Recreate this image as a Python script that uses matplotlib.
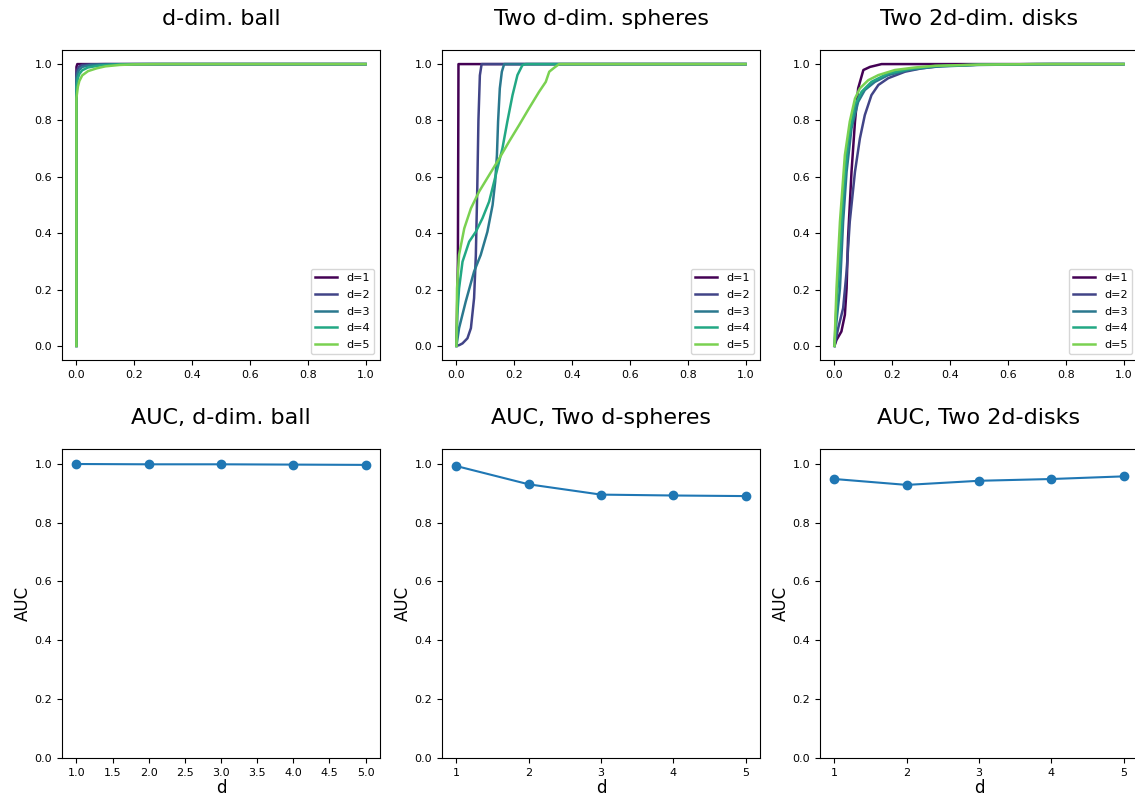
import matplotlib
matplotlib.use("Agg")
import matplotlib.pyplot as plt
import numpy as np

dims = [1, 2, 3, 4, 5]
labels = [f"d={d}" for d in dims]

# ROC curves, d-dim. ball
ball_x = [
    [0, 0, 0.003, 1],
    [0, 0, 0.005, 0.01, 0.02, 0.05, 0.1, 1],
    [0, 0, 0.005, 0.01, 0.02, 0.05, 0.1, 0.2, 1],
    [0, 0, 0.005, 0.01, 0.02, 0.04, 0.08, 0.15, 0.25, 1],
    [0, 0, 0.005, 0.01, 0.02, 0.04, 0.07, 0.1, 0.15, 0.2, 0.3, 1],
]
ball_y = [
    [0, 0.99, 1.0, 1.0],
    [0, 0.97, 0.985, 0.992, 0.997, 0.999, 1.0, 1.0],
    [0, 0.95, 0.97, 0.98, 0.99, 0.997, 0.999, 1.0, 1.0],
    [0, 0.92, 0.95, 0.965, 0.978, 0.988, 0.995, 0.999, 1.0, 1.0],
    [0, 0.88, 0.92, 0.94, 0.96, 0.975, 0.985, 0.992, 0.997, 0.999, 1.0, 1.0],
]

# ROC curves, two d-dim. spheres
sph_x = [
    [0, 0.005, 0.007, 1],
    [0, 0.01, 0.021, 0.038, 0.05, 0.061, 0.067, 0.072, 0.076, 0.081, 0.087, 1],
    [0, 0.009, 0.032, 0.061, 0.084, 0.107, 0.125, 0.134, 0.14, 0.144, 0.15,
     0.157, 0.165, 1],
    [0, 0.003, 0.009, 0.021, 0.044, 0.067, 0.09, 0.113, 0.136, 0.159, 0.176,
     0.194, 0.211, 0.228, 0.24, 1],
    [0, 0.002, 0.009, 0.027, 0.05, 0.078, 0.113, 0.148, 0.182, 0.217, 0.251,
     0.286, 0.309, 0.321, 0.338, 0.355, 1],
]
sph_y = [
    [0, 0.3, 1.0, 1.0],
    [0, 0.003, 0.009, 0.027, 0.063, 0.17, 0.32, 0.56, 0.80, 0.96, 1.0, 1.0],
    [0, 0.063, 0.157, 0.264, 0.323, 0.405, 0.5, 0.583, 0.677, 0.796, 0.914,
     0.973, 1.0, 1.0],
    [0, 0.11, 0.204, 0.299, 0.37, 0.405, 0.453, 0.512, 0.606, 0.701, 0.796,
     0.89, 0.961, 0.996, 1.0, 1.0],
    [0, 0.204, 0.323, 0.417, 0.488, 0.547, 0.606, 0.665, 0.725, 0.784, 0.843,
     0.902, 0.937, 0.973, 0.987, 1.0, 1.0],
]

# ROC curves, two 2d-dim. disks
disk_x = [
    [0, 0.007, 0.024, 0.036, 0.042, 0.047, 0.059, 0.071, 0.082, 0.1, 0.123,
     0.163, 1],
    [0, 0.013, 0.03, 0.042, 0.053, 0.071, 0.088, 0.105, 0.128, 0.152, 0.186,
     0.244, 0.302, 0.372, 0.5, 0.7, 1],
    [0, 0.007, 0.019, 0.03, 0.042, 0.059, 0.082, 0.105, 0.14, 0.186, 0.256,
     0.348, 0.5, 0.75, 1],
    [0, 0.007, 0.019, 0.03, 0.047, 0.071, 0.094, 0.128, 0.186, 0.256, 0.348,
     0.5, 0.7, 1],
    [0, 0.007, 0.019, 0.036, 0.053, 0.071, 0.088, 0.117, 0.152, 0.209, 0.279,
     0.348, 0.5, 0.7, 1],
]
disk_y = [
    [0, 0.021, 0.051, 0.11, 0.204, 0.382, 0.618, 0.796, 0.914, 0.979, 0.99,
     1.0, 1.0],
    [0, 0.063, 0.134, 0.264, 0.441, 0.618, 0.736, 0.819, 0.89, 0.926, 0.95,
     0.973, 0.985, 0.993, 0.998, 1.0, 1.0],
    [0, 0.086, 0.204, 0.441, 0.618, 0.772, 0.866, 0.908, 0.937, 0.961, 0.979,
     0.991, 0.997, 1.0, 1.0],
    [0, 0.145, 0.323, 0.535, 0.725, 0.855, 0.902, 0.937, 0.967, 0.982, 0.993,
     0.998, 1.0, 1.0],
    [0, 0.204, 0.441, 0.677, 0.796, 0.878, 0.914, 0.943, 0.961, 0.979, 0.988,
     0.994, 0.998, 1.0, 1.0],
]

auc_ball = [0.999, 0.998, 0.998, 0.997, 0.996]
auc_spheres = [0.992, 0.930, 0.895, 0.892, 0.890]
auc_disks = [0.948, 0.928, 0.942, 0.948, 0.957]

colors = plt.cm.viridis(np.linspace(0, 0.8, 5))

W, H = 1135, 799
fig = plt.figure(figsize=(W / 100, H / 100), dpi=100)

lefts = [62, 442, 820]
aw = 318


def box(left, top, bottom):
    return [left / W, 1 - bottom / H, aw / W, (bottom - top) / H]


top_titles = ["d-dim. ball", "Two d-dim. spheres", "Two 2d-dim. disks"]
roc_sets = [(ball_x, ball_y), (sph_x, sph_y), (disk_x, disk_y)]
for i in range(3):
    ax = fig.add_axes(box(lefts[i], 50, 360))
    xs, ys = roc_sets[i]
    for j in range(5):
        ax.plot(xs[j], ys[j], color=colors[j], lw=1.8, label=labels[j])
    ax.set_title(top_titles[i], fontsize=16, pad=18)
    ax.tick_params(labelsize=8)
    ax.legend(loc="lower right", fontsize=8, labelspacing=0.6)

bot_titles = ["AUC, d-dim. ball", "AUC, Two d-spheres", "AUC, Two 2d-disks"]
aucs = [auc_ball, auc_spheres, auc_disks]
for i in range(3):
    ax = fig.add_axes(box(lefts[i], 449, 758))
    if i == 0:
        ax.plot([float(d) for d in dims], aucs[i], "o-", lw=1.5, ms=6)
        ax.set_xticks(np.arange(1, 5.01, 0.5))
    else:
        ax.plot(dims, aucs[i], "o-", lw=1.5, ms=6)
        ax.set_xticks(dims)
    ax.set_ylim(0, 1.05)
    ax.set_title(bot_titles[i], fontsize=16, pad=18)
    ax.set_xlabel("d", fontsize=12, labelpad=1)
    ax.set_ylabel("AUC", fontsize=12, labelpad=2)
    ax.tick_params(labelsize=8)

fig.savefig("out.png", dpi=100)
